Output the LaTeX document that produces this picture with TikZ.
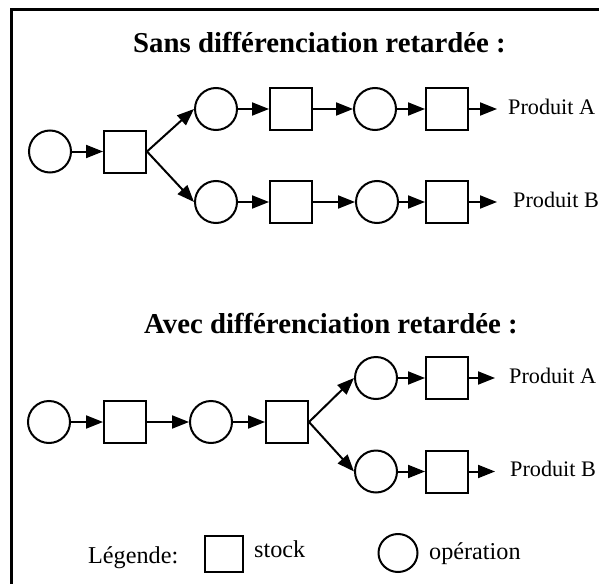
\documentclass[tikz,border=0pt]{standalone}
\usepackage{fontspec}
\setmainfont{Liberation Serif}
\usetikzlibrary{arrows.meta,shapes.geometric}
\begin{document}
\begin{tikzpicture}[x=1pt,y=-1pt,
  op/.style={draw,circle,line width=2pt,minimum size=42pt,inner sep=0pt},
  stk/.style={draw,rectangle,line width=2pt,minimum width=42pt,minimum height=42pt,inner sep=0pt},
  flow/.style={line width=2pt,-{Triangle[length=17pt,width=13pt]}},
  ttl/.style={anchor=base west,inner sep=0pt,font=\bfseries\fontsize{28.8}{30}\selectfont},
  lbl/.style={anchor=base west,inner sep=0pt,font=\fontsize{22.2}{24}\selectfont},
  leg/.style={anchor=base west,inner sep=0pt,font=\fontsize{24.2}{26}\selectfont}]
\useasboundingbox (0,0) rectangle (599,583);
\clip (0,0) rectangle (599,583);
\draw[line width=2.3pt] (11.5,620) -- (11.5,9.5) -- (640,9.5);

% top diagram
\node[ttl] (t1) at (133,53) {Sans différenciation retardée :};
\node[op]  (a1) at (50,151.5) {};
\node[stk] (a2) at (125,151.5) {};
\node[op]  (a3) at (216,109) {};
\node[stk] (a4) at (291,109) {};
\node[op]  (a5) at (375,109) {};
\node[stk] (a6) at (447,109) {};
\coordinate (a7) at (497,109);
\node[lbl] (pa1) at (508,114) {Produit A};
\node[op]  (b3) at (216,202) {};
\node[stk] (b4) at (291,202) {};
\node[op]  (b5) at (377,202) {};
\node[stk] (b6) at (447,202) {};
\coordinate (b7) at (497,202);
\node[lbl] (pb1) at (513,207) {Produit B};
\draw[flow] (a1.east) -- (a2.west);
\draw[flow] (a2.east) -- (a3.west);
\draw[flow] (a2.east) -- (b3.west);
\draw[flow] (a3.east) -- (a4.west);
\draw[flow] (a4.east) -- (a5.west);
\draw[flow] (a5.east) -- (a6.west);
\draw[flow] (a6.east) -- (a7);
\draw[flow] (b3.east) -- (b4.west);
\draw[flow] (b4.east) -- (b5.west);
\draw[flow] (b5.east) -- (b6.west);
\draw[flow] (b6.east) -- (b7);

% bottom diagram
\node[ttl] (t2) at (144,333) {Avec différenciation retardée :};
\node[op]  (c1) at (49,422) {};
\node[stk] (c2) at (125,422) {};
\node[op]  (c3) at (211,422) {};
\node[stk] (c4) at (287,422) {};
\node[op]  (d5) at (376,378) {};
\node[stk] (d6) at (447,378) {};
\coordinate (d7) at (495,378);
\node[lbl] (pa2) at (509,383) {Produit A};
\node[op]  (e5) at (376,471.5) {};
\node[stk] (e6) at (447,471.5) {};
\coordinate (e7) at (495,471.5);
\node[lbl] (pb2) at (510,476) {Produit B};
\draw[flow] (c1.east) -- (c2.west);
\draw[flow] (c2.east) -- (c3.west);
\draw[flow] (c3.east) -- (c4.west);
\draw[flow] (c4.east) -- (d5.west);
\draw[flow] (c4.east) -- (e5.west);
\draw[flow] (d5.east) -- (d6.west);
\draw[flow] (d6.east) -- (d7);
\draw[flow] (e5.east) -- (e6.west);
\draw[flow] (e6.east) -- (e7);

% legend
\node[leg] (lg) at (88,563) {Légende:};
\node[stk,minimum width=38pt,minimum height=36pt] (ls) at (224,554) {};
\node[leg] (lst) at (254,557) {stock};
\node[draw,ellipse,line width=2pt,minimum width=39pt,minimum height=38pt,inner sep=0pt] (lc) at (398,553) {};
\node[leg] (lop) at (429,559) {opération};
\end{tikzpicture}
\end{document}
